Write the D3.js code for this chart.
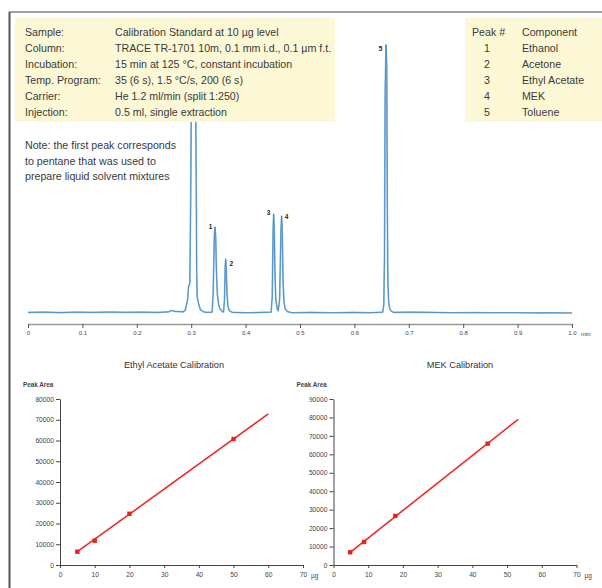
<!DOCTYPE html>
<html>
<head>
<meta charset="utf-8">
<script src="https://cdn.jsdelivr.net/npm/d3@7"></script>
<style>
	body { margin: 0; background: #fff; }
	svg { display: block; }
	.info { font-family: 'Liberation Sans Narrow', 'Liberation Sans', sans-serif; font-size: 11.6px; fill: #3a3a3a; }
	.small { font-family: 'Liberation Sans', Arial, sans-serif; }
</style>
</head>
<body>
<div id="chart"></div>
<script>
// ---- data ----
var infoLabels = ['Sample:', 'Column:', 'Incubation:', 'Temp. Program:', 'Carrier:', 'Injection:'];
var infoValues = [
	'Calibration Standard at 10 µg level',
	'TRACE TR-1701 10m, 0.1 mm i.d., 0.1 µm f.t.',
	'15 min at 125 °C, constant incubation',
	'35 (6 s), 1.5 °C/s, 200 (6 s)',
	'He 1.2 ml/min (split 1:250)',
	'0.5 ml, single extraction'
];
var peakNums = ['1', '2', '3', '4', '5'];
var components = ['Ethanol', 'Acetone', 'Ethyl Acetate', 'MEK', 'Toluene'];
var noteLines = ['Note: the first peak corresponds', 'to pentane that was used to', 'prepare liquid solvent mixtures'];

// chromatogram trace: [time (min), signal]
var traceTime = [0, 0.03, 0.06, 0.09, 0.12, 0.15, 0.18, 0.21, 0.24, 0.258, 0.263, 0.27, 0.28, 0.285,
	0.289, 0.2935, 0.295, 0.2975, 0.299, 0.301, 0.304, 0.3075, 0.3095, 0.310, 0.311, 0.314, 0.317, 0.323, 0.329,
	0.3385, 0.3405, 0.3425, 0.3438, 0.345, 0.3465, 0.348, 0.3505, 0.353, 0.358,
	0.3595, 0.3612, 0.3625, 0.3634, 0.3645, 0.3658, 0.3675, 0.370, 0.376,
	0.40, 0.43, 0.447,
	0.449, 0.4505, 0.4516, 0.4528, 0.454, 0.4555, 0.458, 0.460,
	0.4625, 0.465, 0.4663, 0.4675, 0.4688, 0.4705, 0.473, 0.477, 0.485,
	0.52, 0.56, 0.60, 0.63, 0.652,
	0.654, 0.6553, 0.6565, 0.6581, 0.6595, 0.6605, 0.6615, 0.663, 0.665, 0.668, 0.672,
	0.70, 0.74, 0.78, 0.82, 0.86, 0.90, 0.94, 0.97, 1.0];
var traceSignal = [0.2, 0.3, 0.15, 0.3, 0.2, 0.35, 0.25, 0.3, 0.2, 0.4, 0.9, 0.6, 0.5, 0.4,
	1.0, 5, 9.5, 11, 40, 100, 104, 100, 40, 16, 6, 3, 1.2, 0.4, 0.2,
	0.3, 8, 28, 31.5, 28, 15, 7, 3, 1.5, 0.4,
	0.4, 5, 17, 19.7, 16, 7, 2.5, 0.8, 0.2,
	0.1, 0.2, 0.3,
	6, 30, 36.2, 30, 14, 5, 1.5, 0.8,
	5, 30, 35.5, 29, 12, 4, 1.5, 0.5, 0.1,
	0.2, 0.1, 0.2, 0.1, 0.3,
	3, 20, 80, 98.2, 90, 40, 12, 4, 1.5, 0.6, 0.2,
	0.3, 0.2, 0.1, 0.15, 0.1, 0.1, 0.05, 0.1, 0];
var peakTimes = [0.3438, 0.3634, 0.4516, 0.4663, 0.6581];
var peakHeights = [31.5, 19.7, 36.2, 35.5, 98.2];
var timeTicks = [0, 0.1, 0.2, 0.3, 0.4, 0.5, 0.6, 0.7, 0.8, 0.9, 1.0];

// calibrations
var eaAmount = [5, 10, 20, 50];
var eaArea = [6400, 11700, 24700, 60700];
var eaFitX = [5, 60];
var eaFitY = [6400, 72800];
var eaYTicks = [0, 10000, 20000, 30000, 40000, 50000, 60000, 70000, 80000];

var mekAmount = [4.8, 8.8, 17.8, 44.4];
var mekArea = [6900, 12500, 26600, 65800];
var mekFitX = [4.8, 53.2];
var mekFitY = [6900, 79000];
var mekYTicks = [0, 10000, 20000, 30000, 40000, 50000, 60000, 70000, 80000, 90000];

var amountTicks = [0, 10, 20, 30, 40, 50, 60, 70];

// ---- drawing ----
var W = 602, H = 588;
var narrow = 0.92; // no condensed face installed, squeeze the regular one
var svg = d3.select('#chart').append('svg').attr('width', W).attr('height', H);

var chrom = { left: 28, right: 572, base: 313, top: 40, axisY: 324 };
var x = d3.scaleLinear().domain([0, 1]).range([chrom.left, chrom.right]);
var y = d3.scaleLinear().domain([0, 100]).range([chrom.base, chrom.top]);

var trace = traceTime.map(function(t, i) { return [t, traceSignal[i]]; });
var line = d3.line()
	.x(function(d) { return x(d[0]); })
	.y(function(d) { return y(d[1]); });

svg.append('path')
	.datum(trace)
	.attr('fill', 'none')
	.attr('stroke', '#8dbbe0')
	.attr('stroke-width', 1.7)
	.attr('stroke-linejoin', 'round')
	.attr('d', line);
svg.append('path')
	.datum(trace)
	.attr('fill', 'none')
	.attr('stroke', '#3b7fb9')
	.attr('stroke-width', 0.7)
	.attr('d', line);

// peak labels
var labelOffsets = [[-4.5, 2], [5.5, 6.5], [-5, 0.5], [5, 2.5], [-5.5, 6]];
svg.selectAll('.peaklabel')
	.data(peakNums)
	.enter().append('text')
	.attr('class', 'small')
	.attr('x', function(d, i) { return x(peakTimes[i]) + labelOffsets[i][0]; })
	.attr('y', function(d, i) { return y(peakHeights[i]) + labelOffsets[i][1]; })
	.attr('text-anchor', 'middle')
	.style('font-size', '6.5px')
	.style('font-weight', 'bold')
	.style('fill', '#222')
	.text(function(d) { return d; });

// time axis
var tAxis = d3.axisBottom(x)
	.tickValues(timeTicks)
	.tickSizeInner(4)
	.tickSizeOuter(0)
	.tickPadding(3)
	.tickFormat(function(d) { return d === 0 ? '0' : d3.format('.1f')(d); });
var tg = svg.append('g')
	.attr('transform', 'translate(0,' + chrom.axisY + ')')
	.call(tAxis);
tg.select('.domain').attr('stroke', '#999').attr('stroke-width', 1.6);
tg.selectAll('.tick line').attr('stroke', '#555').attr('stroke-width', 1);
tg.selectAll('.tick text')
	.attr('class', 'small')
	.style('font-size', '6px')
	.style('fill', '#444');
svg.append('text')
	.attr('class', 'small')
	.attr('x', x(1) + 9)
	.attr('y', chrom.axisY + 11.5)
	.style('font-size', '6px')
	.style('fill', '#444')
	.text('min');

// info boxes (drawn over the pentane peak)
svg.append('rect').attr('x', 15).attr('y', 18).attr('width', 320).attr('height', 104).attr('fill', '#fcf8d6');
svg.append('rect').attr('x', 465).attr('y', 18).attr('width', 137).attr('height', 104).attr('fill', '#fcf8d6');

function infoText(str, px, py, anchor) {
	svg.append('text')
		.attr('class', 'info')
		.attr('transform', 'translate(' + px + ',' + py + ') scale(' + narrow + ',1)')
		.attr('text-anchor', anchor || 'start')
		.text(str);
}

var rowY = function(i) { return 36 + i * 15.9; };
infoLabels.forEach(function(d, i) { infoText(d, 25, rowY(i)); });
infoValues.forEach(function(d, i) { infoText(d, 115, rowY(i)); });

infoText('Peak #', 472, rowY(0));
infoText('Component', 522, rowY(0));
peakNums.forEach(function(d, i) { infoText(d, 487, rowY(i + 1), 'middle'); });
components.forEach(function(d, i) { infoText(d, 522, rowY(i + 1)); });

noteLines.forEach(function(d, i) { infoText(d, 25, 149 + i * 15.5); });

// calibration plots
function calibration(opts) {
	var cx = d3.scaleLinear().domain([0, 70]).range([opts.left, opts.left + 243]);
	var cy = d3.scaleLinear().domain([0, opts.yMax]).range([565, 399]);
	var g = svg.append('g');

	g.append('text').attr('class', 'small')
		.attr('x', opts.titleX).attr('y', 368)
		.attr('text-anchor', 'middle')
		.style('font-size', '9.2px').style('fill', '#333')
		.text(opts.title);
	g.append('text').attr('class', 'small')
		.attr('x', opts.left - 37).attr('y', 387)
		.style('font-size', '6.3px').style('font-weight', 'bold').style('fill', '#444')
		.text('Peak Area');

	var ya = g.append('g').attr('transform', 'translate(' + opts.left + ',0)')
		.call(d3.axisLeft(cy).tickValues(opts.yTicks).tickSizeInner(4).tickSizeOuter(0).tickPadding(2).tickFormat(d3.format('d')));
	var xa = g.append('g').attr('transform', 'translate(0,565)')
		.call(d3.axisBottom(cx).tickValues(amountTicks).tickSizeInner(3).tickSizeOuter(0).tickPadding(4));
	[ya, xa].forEach(function(a) {
		a.select('.domain').attr('stroke', '#444').attr('stroke-width', 1);
		a.selectAll('.tick line').attr('stroke', '#444');
		a.selectAll('.tick text').attr('class', 'small').style('font-size', '6.7px').style('fill', '#444');
	});
	g.append('text').attr('class', 'small')
		.attr('x', cx(70) + 8).attr('y', 577.5)
		.style('font-size', '6.5px').style('fill', '#444')
		.text('µg');

	var fit = opts.fitX.map(function(v, i) { return [v, opts.fitY[i]]; });
	g.append('path').datum(fit)
		.attr('fill', 'none').attr('stroke', '#ee2b24').attr('stroke-width', 1.6)
		.attr('d', d3.line().x(function(d) { return cx(d[0]); }).y(function(d) { return cy(d[1]); }));
	g.selectAll('.pt').data(opts.xs).enter().append('rect')
		.attr('x', function(d) { return cx(d) - 2.2; })
		.attr('y', function(d, i) { return cy(opts.ys[i]) - 2.2; })
		.attr('width', 4.4).attr('height', 4.4)
		.attr('fill', '#e8231c');
}

calibration({ left: 60, yMax: 80000, yTicks: eaYTicks, title: 'Ethyl Acetate Calibration', titleX: 174,
	xs: eaAmount, ys: eaArea, fitX: eaFitX, fitY: eaFitY });
calibration({ left: 333.5, yMax: 90000, yTicks: mekYTicks, title: 'MEK Calibration', titleX: 460,
	xs: mekAmount, ys: mekArea, fitX: mekFitX, fitY: mekFitY });

// frame
svg.append('line').attr('x1', 9).attr('x2', W).attr('y1', 12).attr('y2', 12).attr('stroke', '#444').attr('stroke-width', 1.2);
svg.append('line').attr('x1', 9.5).attr('x2', 9.5).attr('y1', 12).attr('y2', H).attr('stroke', '#555').attr('stroke-width', 2);
</script>
</body>
</html>
